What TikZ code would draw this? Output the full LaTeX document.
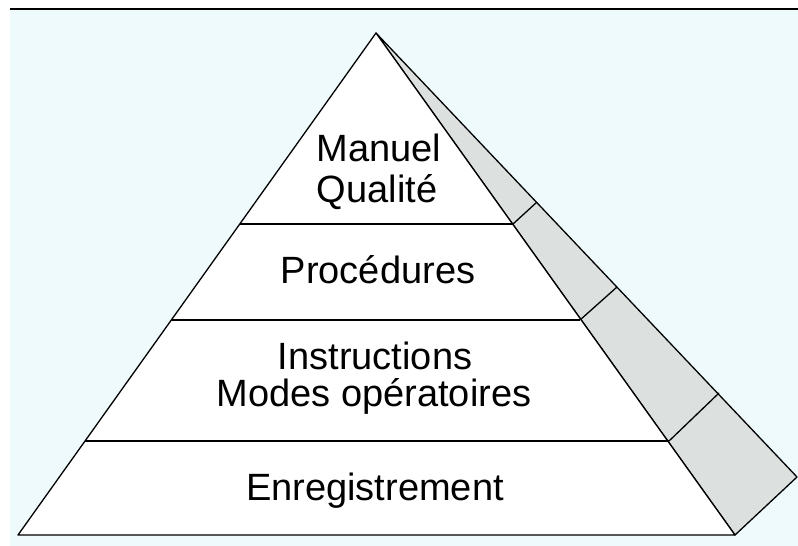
\documentclass[tikz,border=0pt]{standalone}
\usepackage{fontspec}
\setmainfont{Liberation Sans}
\definecolor{bgblue}{HTML}{EEFAFC}
\definecolor{sidegray}{HTML}{DCE1E0}
\begin{document}
\begin{tikzpicture}[x=1pt,y=-1pt,
  edge/.style={draw=black,line width=1.3pt,line join=round},
  label/.style={font=\fontsize{38}{38}\selectfont,anchor=base,inner sep=0pt}]
\useasboundingbox (0,0) rectangle (798,546);
\fill[bgblue] (10,10) rectangle (798,546);
\draw[black,line width=2pt] (10,9) -- (798,9);
% key points
\coordinate (A) at (376,33);
\coordinate (BL) at (18,535);
\coordinate (BR) at (735,535);
\coordinate (O) at (797,477);
\coordinate (L1) at (240,224);
\coordinate (R1) at (513,224);
\coordinate (L2) at (171,320);
\coordinate (R2) at (580,320);
\coordinate (L3) at (85,441);
\coordinate (R3) at (669,441);
\coordinate (P1) at (537,202);
\coordinate (P2) at (617,287);
\coordinate (P3) at (719,393);
% side face
\filldraw[edge,fill=sidegray] (A) -- (O) -- (BR) -- cycle;
\draw[edge] (R1) -- (P1);
\draw[edge] (R2) -- (P2);
\draw[edge] (R3) -- (P3);
% front face
\filldraw[edge,fill=white] (A) -- (BR) -- (BL) -- cycle;
\draw[edge] (L1) -- (R1);
\draw[edge] (L2) -- (R2);
\draw[edge] (L3) -- (R3);
% labels
\node[label] (t1) at (379,161) {Manuel};
\node[label] (t2) at (377,202) {Qualité};
\node[label] (t3) at (378,283) {Procédures};
\node[label] (t4) at (375,369) {Instructions};
\node[label] (t5) at (374,406) {Modes opératoires};
\node[label] (t6) at (375,500) {Enregistrement};
\end{tikzpicture}
\end{document}
